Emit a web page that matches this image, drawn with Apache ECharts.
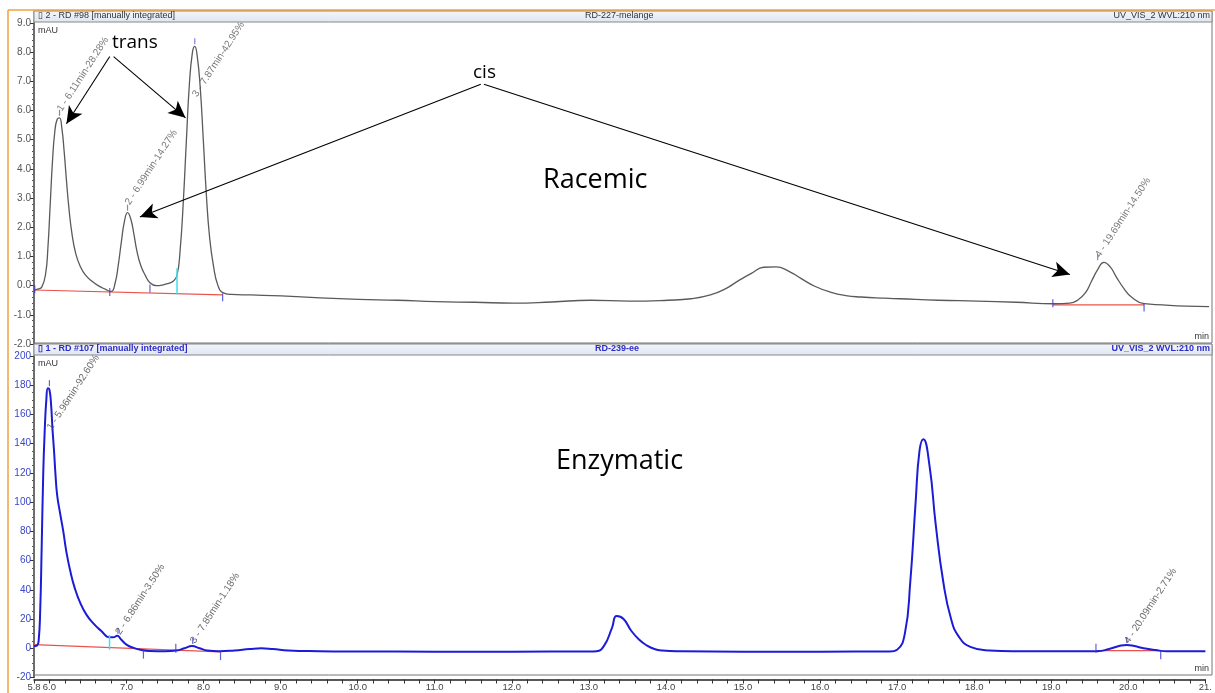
<!DOCTYPE html>
<html><head><meta charset="utf-8">
<script src="https://cdn.jsdelivr.net/npm/echarts/dist/echarts.min.js"></script>
<style>html,body{margin:0;padding:0;background:#fff;}#c{width:1215px;height:693px;}</style>
</head><body><div id="c"></div>
<script>
// ---------- DATA ----------
// Racemic trace (top panel), time in min, signal in mAU
const racemicTime = [5.80,5.85,5.90,5.95,5.98,6.01,6.04,6.07,6.10,6.13,6.16,6.19,6.22,6.25,6.29,6.34,6.40,6.47,6.55,6.63,6.72,6.80,6.85,6.89,6.93,6.97,7.01,7.05,7.09,7.13,7.18,7.24,7.30,7.38,7.46,7.54,7.60,7.65,7.69,7.73,7.77,7.81,7.85,7.88,7.91,7.95,7.99,8.03,8.07,8.12,8.18,8.25,8.35,8.60,9.00,9.50,10.0,10.5,11.0,11.5,12.0,12.5,13.0,13.5,14.0,14.3,14.55,14.75,14.92,15.08,15.24,15.40,15.56,15.72,15.90,16.10,16.30,16.50,16.80,17.0,17.5,18.0,18.5,19.0,19.2,19.3,19.4,19.48,19.56,19.64,19.72,19.80,19.90,20.0,20.16,20.4,20.7,21.0];
const racemicMAU  = [-0.15,-0.12,-0.05,0.4,1.3,2.8,4.3,5.3,5.7,5.75,5.4,4.6,3.6,2.7,1.8,1.1,0.65,0.35,0.15,0.0,-0.12,-0.2,0.1,0.7,1.5,2.2,2.5,2.3,1.8,1.2,0.7,0.35,0.1,0.0,0.02,0.08,0.15,0.35,1.2,2.8,4.9,6.9,8.0,8.2,7.9,6.8,5.0,3.1,1.7,0.7,0.0,-0.25,-0.3,-0.32,-0.35,-0.42,-0.47,-0.5,-0.55,-0.57,-0.6,-0.56,-0.5,-0.53,-0.5,-0.45,-0.32,-0.1,0.18,0.42,0.63,0.64,0.5,0.25,-0.02,-0.22,-0.34,-0.39,-0.43,-0.45,-0.5,-0.53,-0.57,-0.62,-0.6,-0.5,-0.25,0.15,0.55,0.8,0.65,0.3,-0.1,-0.4,-0.62,-0.66,-0.7,-0.72];
// Enzymatic trace (bottom panel)
const enzymaticTime = [5.80,5.84,5.86,5.88,5.90,5.92,5.94,5.96,5.98,6.00,6.02,6.04,6.06,6.08,6.10,6.14,6.18,6.22,6.27,6.33,6.40,6.48,6.57,6.67,6.78,6.83,6.88,6.93,7.00,7.08,7.18,7.30,7.50,7.65,7.75,7.85,7.95,8.05,8.20,8.40,8.60,8.75,8.90,9.10,9.50,10.0,11.0,12.0,13.0,13.1,13.2,13.3,13.36,13.45,13.55,13.65,13.75,13.85,13.95,14.2,15.0,16.0,16.9,17.0,17.1,17.17,17.24,17.29,17.34,17.42,17.5,17.6,17.7,17.8,17.95,18.2,18.5,19.6,19.75,19.88,19.98,20.08,20.2,20.35,20.5,21.0];
const enzymaticMAU  = [1.5,2,5,25,70,120,150,170,178,177,168,150,135,118,105,92,80,66,53,41,31,23,17,12,7.5,7.5,8.5,6,2.5,0.5,-1,-1.8,-2,-1.5,0,1.5,0,-1.5,-2,-1.5,-0.5,0,-0.5,-1.5,-2,-2.2,-2.3,-2.3,-2.2,-2,2,14,22,20,12,6,2,-0.5,-1.5,-2,-2.3,-2.3,-2.2,-1,10,45,100,135,143,125,85,45,20,8,1,-1.5,-2,-2,-0.5,1.5,2.3,1.5,0,-1.2,-2,-2];
// Peak labels
const racemicPeakTime   = [6.13, 7.01, 7.88, 19.56];
const racemicPeakMAU    = [5.75, 2.5, 8.2, 0.8];
const racemicLabelMAU   = [6.0, 2.8, 6.5, 1.0];
const racemicPeakText   = ["1 - 6.11min-28.28%", "2 - 6.99min-14.27%", "3 - 7.87min-42.95%", "4 - 19.69min-14.50%"];
const enzymaticPeakTime = [6.00, 6.89, 7.86, 19.98];
const enzymaticPeakMAU  = [178, 8.5, 1.5, 2.3];
const enzymaticLabelMAU = [150, 10, 4, 4];
const enzymaticPeakText = ["1 - 5.96min-92.60%", "2 - 6.86min-3.50%", "3 - 7.85min-1.18%", "4 - 20.09min-2.71%"];
// Integration baselines [t1, v1, t2, v2]
const racemicBaselines   = [[5.80, -0.15, 8.24, -0.32], [18.98, -0.66, 20.16, -0.66]];
const enzymaticBaselines = [[5.80, 2.5, 8.22, -2.4], [19.58, -1.6, 20.42, -1.6]];
// Integration boundary markers [t, v]
const racemicMarks   = [[5.81, -0.12], [6.78, -0.22], [7.30, -0.1], [8.24, -0.4], [18.98, -0.6], [20.16, -0.75]];
const enzymaticMarks = [[7.22, -4], [7.64, 0], [8.22, -5], [19.58, 0], [20.42, -4.5]];
const racemicCyan   = [7.65, -0.3, 0.6];
const enzymaticCyan = [6.78, -1, 9];
// Annotation arrows [t1, v1, t2, v2] (top panel data units)
const arrows = [[6.78, 7.85, 6.22, 5.55], [6.83, 7.85, 7.76, 5.75], [11.58, 6.9, 7.17, 2.35], [11.62, 6.9, 19.2, 0.38]];
const xTickLabels = ["5.8","6.0","7.0","8.0","9.0","10.0","11.0","12.0","13.0","14.0","15.0","16.0","17.0","18.0","19.0","20.0","21."];
// ---------------------------

const zip = (a, b) => a.map((v, i) => [v, b[i]]);
const FONT = 'Liberation Sans';
const BLUE = '#1c1cd6', LBLUE = '#3a46c8';

function fmtX(v) {
  const r = Math.round(v * 10) / 10;
  if (Math.abs(r - 5.8) < 1e-6) return xTickLabels[0];
  if (Math.abs(r - Math.round(r)) < 1e-6) {
    const idx = Math.round(r) - 5;
    return xTickLabels[idx] || '';
  }
  return '';
}

function baselineSeries(list, xi, yi) {
  return list.map(b => ({
    type: 'line', xAxisIndex: xi, yAxisIndex: yi, data: [[b[0], b[1]], [b[2], b[3]]],
    symbol: 'none', silent: true, z: 3, lineStyle: { color: '#e8534a', width: 1.2 }
  }));
}

function labelSeries(xi, times, vals, texts, color) {
  return { type: 'scatter', xAxisIndex: xi, yAxisIndex: xi, symbol: 'circle', symbolSize: 1, z: 7, silent: true,
    itemStyle: { color: 'rgba(0,0,0,0)' },
    data: times.map((t, i) => ({ value: [t, vals[i]], name: texts[i] })),
    label: { show: true, position: 'inside', align: 'left', verticalAlign: 'middle', rotate: 57,
      formatter: p => p.name, color: color, fontFamily: FONT, fontSize: 10 } };
}

const series = [
  { type: 'line', xAxisIndex: 0, yAxisIndex: 0, data: zip(racemicTime, racemicMAU), symbol: 'none',
    smooth: 0.5, lineStyle: { color: '#5a5a5a', width: 1.3 }, z: 4,
    markLine: { silent: true, symbol: ['none', 'arrow'], symbolSize: [12, 17], label: { show: false },
      lineStyle: { color: '#000', width: 1.1, type: 'solid' },
      data: arrows.map(a => [{ coord: [a[0], a[1]] }, { coord: [a[2], a[3]] }]) } },
  { type: 'line', xAxisIndex: 1, yAxisIndex: 1, data: zip(enzymaticTime, enzymaticMAU), symbol: 'none',
    smooth: 0.5, lineStyle: { color: BLUE, width: 2 }, z: 4 },
  ...baselineSeries(racemicBaselines, 0, 0),
  ...baselineSeries(enzymaticBaselines, 1, 1),
  { type: 'line', xAxisIndex: 0, yAxisIndex: 0, data: [[racemicCyan[0], racemicCyan[1]], [racemicCyan[0], racemicCyan[2]]],
    symbol: 'none', lineStyle: { color: '#3ee0f0', width: 1.5 }, z: 5 },
  { type: 'line', xAxisIndex: 1, yAxisIndex: 1, data: [[enzymaticCyan[0], enzymaticCyan[1]], [enzymaticCyan[0], enzymaticCyan[2]]],
    symbol: 'none', lineStyle: { color: '#3ee0f0', width: 1.5 }, z: 5 },
  { type: 'scatter', xAxisIndex: 0, yAxisIndex: 0, data: racemicMarks, symbol: 'rect', symbolSize: [1.2, 8],
    itemStyle: { color: '#3a3ad0' }, z: 6, silent: true },
  { type: 'scatter', xAxisIndex: 1, yAxisIndex: 1, data: enzymaticMarks, symbol: 'rect', symbolSize: [1.2, 9],
    itemStyle: { color: '#3a3ad0' }, z: 6, silent: true },
  { type: 'scatter', xAxisIndex: 0, yAxisIndex: 0, data: zip(racemicPeakTime, racemicPeakMAU), symbol: 'rect',
    symbolSize: [1.2, 6], symbolOffset: [0, -5], itemStyle: { color: '#6060d0' }, z: 6, silent: true },
  { type: 'scatter', xAxisIndex: 1, yAxisIndex: 1, data: zip(enzymaticPeakTime, enzymaticPeakMAU), symbol: 'rect',
    symbolSize: [1.2, 6], symbolOffset: [0, -5], itemStyle: { color: '#3a3ad0' }, z: 6, silent: true },
  labelSeries(0, racemicPeakTime, racemicLabelMAU, racemicPeakText, '#555'),
  labelSeries(1, enzymaticPeakTime, enzymaticLabelMAU, enzymaticPeakText, '#444')
];

const xCommon = { type: 'value', min: 5.8, max: 21.0, interval: 0.2 };
const gradFill = () => new echarts.graphic.LinearGradient(0, 0, 0, 1, [{ offset: 0, color: '#f3f6fb' }, { offset: 1, color: '#dfe6f1' }]);
const option = {
  animation: false,
  backgroundColor: '#fff',
  grid: [
    { left: 34, right: 6, top: 23, height: 321, show: false },
    { left: 34, right: 6, top: 356, height: 321.5, show: false }
  ],
  xAxis: [
    Object.assign({}, xCommon, { gridIndex: 0, axisLine: { show: false }, axisTick: { show: false }, axisLabel: { show: false }, splitLine: { show: false } }),
    Object.assign({}, xCommon, { gridIndex: 1, offset: 2,
      axisLine: { show: true, onZero: false, lineStyle: { color: '#222', width: 1.5 } },
      axisTick: { show: true, length: 4, lineStyle: { color: '#333' } },
      axisLabel: { show: true, interval: 0, formatter: fmtX, color: '#444', fontFamily: FONT, fontSize: 9.5, margin: 3, hideOverlap: false },
      splitLine: { show: false } })
  ],
  yAxis: [
    { type: 'value', gridIndex: 0, min: -2, max: 9, interval: 1,
      axisLine: { show: true, lineStyle: { color: '#333', width: 1.5 } },
      axisTick: { show: true, length: 4, lineStyle: { color: '#333' } },
      minorTick: { show: true, splitNumber: 5, length: 2, lineStyle: { color: '#555' } },
      axisLabel: { formatter: v => v.toFixed(1), color: '#555', fontFamily: FONT, fontSize: 10, margin: 3 },
      splitLine: { show: false } },
    { type: 'value', gridIndex: 1, min: -20, max: 200, interval: 20,
      axisLine: { show: true, lineStyle: { color: '#333', width: 1.5 } },
      axisTick: { show: true, length: 4, lineStyle: { color: '#333' } },
      minorTick: { show: true, splitNumber: 4, length: 2, lineStyle: { color: '#555' } },
      axisLabel: { color: LBLUE, fontFamily: FONT, fontSize: 10, margin: 3 },
      splitLine: { show: false } }
  ],
  graphic: [
    { type: 'line', shape: { x1: 8, y1: 10, x2: 1215, y2: 10 }, style: { stroke: '#f0a23c', lineWidth: 1.5 }, z: 10 },
    { type: 'line', shape: { x1: 8, y1: 10, x2: 8, y2: 693 }, style: { stroke: '#f0a23c', lineWidth: 1.5 }, z: 10 },
    { type: 'rect', shape: { x: 34, y: 11, width: 1178, height: 332 }, style: { fill: 'none', stroke: '#777', lineWidth: 1 }, z: 1 },
    { type: 'rect', shape: { x: 34, y: 344, width: 1178, height: 331 }, style: { fill: 'none', stroke: '#777', lineWidth: 1 }, z: 1 },
    { type: 'rect', shape: { x: 34, y: 11, width: 1178, height: 11 }, style: { fill: gradFill(), stroke: '#888', lineWidth: 1 }, z: 2 },
    { type: 'rect', shape: { x: 34, y: 344, width: 1178, height: 11 }, style: { fill: gradFill(), stroke: '#888', lineWidth: 1 }, z: 2 },
    { type: 'text', left: 38, top: 11, style: { text: '▯ 2 - RD #98 [manually integrated]', fill: '#333', font: '9px "Liberation Sans"' }, z: 3 },
    { type: 'text', left: 585, top: 11, style: { text: 'RD-227-melange', fill: '#333', font: '9px "Liberation Sans"' }, z: 3 },
    { type: 'text', right: 5, top: 11, style: { text: 'UV_VIS_2 WVL:210 nm', fill: '#333', font: '9px "Liberation Sans"' }, z: 3 },
    { type: 'text', left: 38, top: 344, style: { text: '▯ 1 - RD #107 [manually integrated]', fill: '#2c2cc8', font: 'bold 9px "Liberation Sans"' }, z: 3 },
    { type: 'text', left: 595, top: 344, style: { text: 'RD-239-ee', fill: '#2c2cc8', font: 'bold 9px "Liberation Sans"' }, z: 3 },
    { type: 'text', right: 5, top: 344, style: { text: 'UV_VIS_2 WVL:210 nm', fill: '#2c2cc8', font: 'bold 9px "Liberation Sans"' }, z: 3 },
    { type: 'text', left: 38, top: 26, style: { text: 'mAU', fill: '#333', font: '9px "Liberation Sans"' }, z: 3 },
    { type: 'text', right: 6, top: 332, style: { text: 'min', fill: '#333', font: '9px "Liberation Sans"' }, z: 3 },
    { type: 'text', left: 38, top: 359, style: { text: 'mAU', fill: '#333', font: '9px "Liberation Sans"' }, z: 3 },
    { type: 'text', right: 6, top: 664, style: { text: 'min', fill: '#333', font: '9px "Liberation Sans"' }, z: 3 },
    { type: 'text', left: 112, top: 33, style: { text: 'trans', fill: '#000', font: '19px "Open Sans"' }, z: 12 },
    { type: 'text', left: 473, top: 63, style: { text: 'cis', fill: '#000', font: '19px "Open Sans"' }, z: 12 },
    { type: 'text', left: 543, top: 167, style: { text: 'Racemic', fill: '#000', font: '27px "Open Sans"' }, z: 12 },
    { type: 'text', left: 556, top: 448, style: { text: 'Enzymatic', fill: '#000', font: '27px "Open Sans"' }, z: 12 }
  ],
  series: series
};
const chart = echarts.init(document.getElementById('c'), null, { renderer: 'canvas' });
chart.setOption(option);
</script>
</body></html>
